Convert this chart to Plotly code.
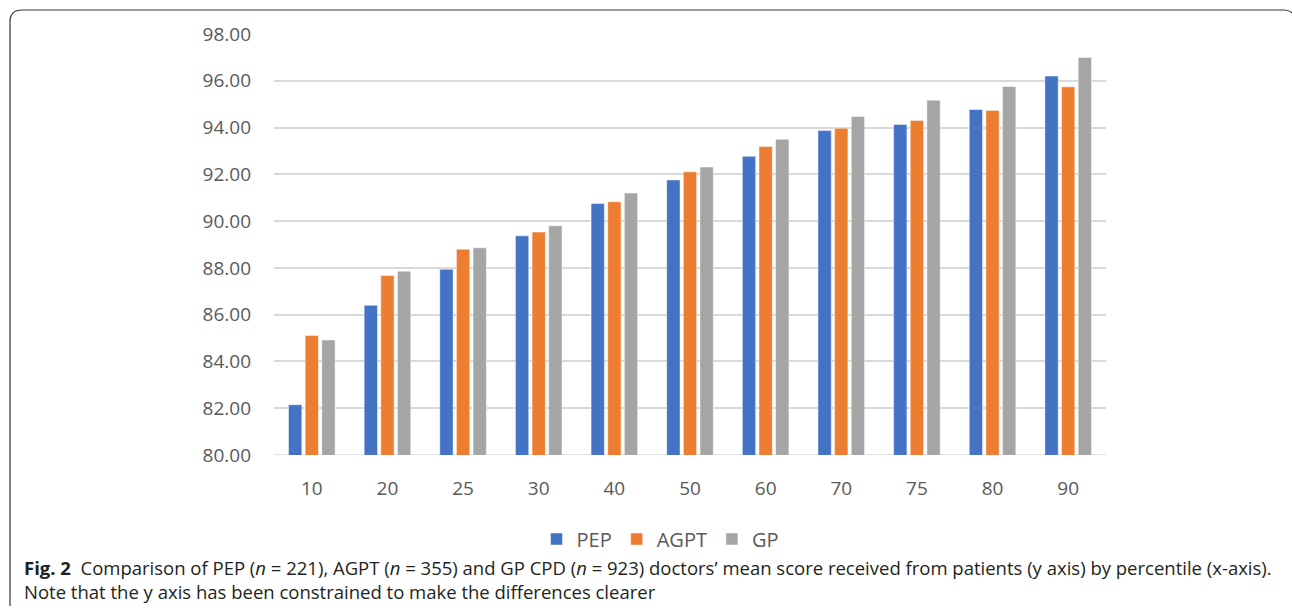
import plotly.graph_objects as go

# Percentile categories and mean patient scores per doctor group
percentiles = ["10", "20", "25", "30", "40", "50", "60", "70", "75", "80", "90"]
pep = [82.15, 86.40, 87.94, 89.37, 90.75, 91.76, 92.77, 93.87, 94.13, 94.77, 96.20]
agpt = [85.11, 87.67, 88.80, 89.53, 90.83, 92.11, 93.19, 93.97, 94.30, 94.73, 95.74]
gp = [84.92, 87.86, 88.86, 89.80, 91.20, 92.31, 93.50, 94.47, 95.17, 95.76, 97.00]
y_ticks = [80, 82, 84, 86, 88, 90, 92, 94, 96, 98]

W, H = 1292, 610
L, R, T, B = 274, 186, 34, 155
PW, PH = W - L - R, H - T - B


def px(x):
    return (x - L) / PW


def py(y):
    return 1 - (y - T) / PH


fig = go.Figure()
for name, vals, color in [("PEP", pep, "#4472C4"),
                          ("AGPT", agpt, "#ED7D31"),
                          ("GP", gp, "#A5A5A5")]:
    fig.add_trace(go.Bar(
        x=percentiles, y=vals, name=name,
        marker=dict(color=color, line=dict(color="rgba(255,255,255,0.6)", width=0.8)),
    ))

tick_font = dict(family="Open Sans", size=19, color="#595959")

fig.update_layout(
    width=W, height=H,
    margin=dict(l=L, r=R, t=T, b=B, autoexpand=False),
    paper_bgcolor="white", plot_bgcolor="white",
    barmode="group", bargap=0.34, bargroupgap=0.2,
    showlegend=True,
    legend=dict(orientation="h", x=px(660), y=py(539), xanchor="center", yanchor="middle",
                font=dict(family="Open Sans", size=20, color="#595959"),
                itemwidth=30, tracegroupgap=0, bgcolor="rgba(0,0,0,0)"),
    xaxis=dict(type="category", showgrid=False, showline=False, zeroline=False,
               ticks="", tickfont=tick_font, ticklabelstandoff=20),
    yaxis=dict(range=[80, 98], tickvals=y_ticks, tickformat=".2f",
               showgrid=True, gridcolor="#D9D9D9", gridwidth=1.5,
               zeroline=False, showline=False, ticks="",
               tickfont=tick_font, ticklabelstandoff=22),
)

# Baseline along the bottom of the value axis
fig.add_shape(type="line", xref="paper", yref="y", x0=0, x1=1, y0=80, y1=80,
              line=dict(color="#D9D9D9", width=1.5), layer="below")

# Rounded frame around the figure (open at the bottom)
r = 12
frame = (f"M {px(10)},{py(606)} L {px(10)},{py(10 + r)} "
         f"Q {px(10)},{py(10)} {px(10 + r)},{py(10)} "
         f"L {px(1284)},{py(10)} Q {px(1290)},{py(10)} {px(1293)},{py(14)}")
fig.add_shape(type="path", xref="paper", yref="paper", path=frame,
              line=dict(color="#333333", width=1.2))

caption_font = dict(family="Open Sans", size=18.5, color="#231F20")
fig.add_annotation(
    xref="paper", yref="paper", x=px(22), y=py(567), xanchor="left", yanchor="middle",
    showarrow=False, font=caption_font,
    text=("<b>Fig. 2</b>  Comparison of PEP (<i>n</i> = 221), AGPT (<i>n</i> = 355) and GP CPD "
          "(<i>n</i> = 923) doctors’ mean score received from patients (y axis) by percentile (x-axis)."),
)
fig.add_annotation(
    xref="paper", yref="paper", x=px(22), y=py(591), xanchor="left", yanchor="middle",
    showarrow=False, font=caption_font,
    text="Note that the y axis has been constrained to make the differences clearer",
)

fig.write_html("out.html")
